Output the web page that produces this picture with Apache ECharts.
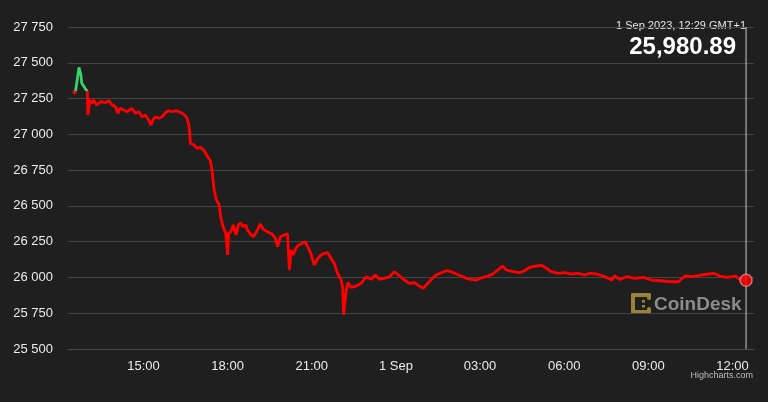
<!DOCTYPE html>
<html>
<head>
<meta charset="utf-8">
<script src="https://cdn.jsdelivr.net/npm/echarts@6/dist/echarts.min.js"></script>
<style>
html,body{margin:0;padding:0;background:#1f1f1f;}
#chart{width:768px;height:402px;}
</style>
</head>
<body>
<div id="chart"></div>
<script>
// Minutes elapsed since 31 Aug 2023 12:29 (GMT+1)
var minutes = [0,5,9,13,17,19,23,26,31,32,36,41,44,51,59,69,77,84,91,96,101,109,116,126,134,141,148,155,162,167,171,176,184,191,198,205,212,219,227,234,241,244,248,250,251,259,266,273,280,287,294,298,302,307,313,316,321,327,331,333,338,343,349,354,359,364,370,373,381,386,393,401,407,416,426,433,438,444,452,459,463,467,471,477,483,491,497,502,509,516,524,531,538,545,552,559,566,574,577,579,584,588,595,606,617,627,638,647,656,666,677,688,699,709,720,731,741,749,756,767,777,788,799,809,820,831,841,852,863,870,884,898,909,919,927,941,956,966,977,992,1002,1013,1024,1038,1052,1066,1081,1095,1106,1120,1134,1145,1152,1159,1170,1184,1202,1220,1238,1256,1278,1295,1310,1324,1343,1360,1371,1384,1399,1417,1427,1440];
// BTC price (USD)
var prices = [27298,27287,27298,27468,27415,27357,27345,27322,27298,27135,27240,27217,27240,27205,27228,27221,27235,27205,27193,27147,27182,27170,27158,27182,27147,27158,27123,27135,27100,27065,27100,27123,27112,27123,27151,27165,27158,27165,27158,27147,27128,27112,27065,27007,26937,26925,26902,26909,26890,26850,26815,26740,26611,26541,26506,26425,26355,26308,26157,26308,26320,26367,26297,26367,26379,26355,26367,26332,26297,26285,26320,26374,26337,26320,26304,26274,26215,26285,26297,26304,26052,26192,26157,26204,26227,26239,26250,26215,26169,26087,26134,26157,26169,26173,26134,26099,26029,25982,25924,25738,25889,25965,25930,25940,25959,26005,25987,26017,25987,25994,26005,26040,26010,25982,25959,25963,25940,25924,25947,25987,26017,26033,26047,26040,26024,26010,25994,25987,25982,25994,26005,26024,26052,26080,26052,26040,26033,26047,26071,26080,26085,26064,26040,26029,26033,26024,26029,26017,26029,26024,26010,25994,25982,26010,25985,26005,25994,26001,25982,25977,25970,25970,26010,26005,26017,26024,26029,26010,26001,26010,25987,25980.89];
var openPrice = 27300;
var startClockMin = 12 * 60 + 29; // 12:29 on 31 Aug
var tickMinutes = [900, 1080, 1260, 1440, 1620, 1800, 1980, 2160];
var tickLabels = ['15:00', '18:00', '21:00', '1 Sep', '03:00', '06:00', '09:00', '12:00'];
var yTicks = [25500, 25750, 26000, 26250, 26500, 26750, 27000, 27250, 27500, 27750];
var lastLabel = '1 Sep 2023, 12:29 GMT+1';

var data = minutes.map(function (m, i) { return [startClockMin + m, prices[i]]; });
var last = data[data.length - 1];
var FONT = '"Liberation Sans", Arial, Helvetica, sans-serif';

function fmtY(v) { return String(v).replace(/\B(?=(\d{3})+(?!\d))/g, ' '); }
var lastText = last[1].toLocaleString('en-US', {minimumFractionDigits: 2, maximumFractionDigits: 2});

var chart = echarts.init(document.getElementById('chart'), null, {renderer: 'canvas'});
var gold = '#9a8236';
chart.setOption({
  backgroundColor: '#1f1f1f',
  animation: false,
  grid: {left: 68, right: 14, top: 27, bottom: 53},
  xAxis: {
    type: 'value',
    min: 738.5,
    max: 2206,
    axisLine: {show: true, lineStyle: {color: '#4a4a4a', width: 1}},
    axisTick: {show: false},
    splitLine: {show: false},
    axisLabel: {
      customValues: tickMinutes,
      formatter: function (v) { var i = tickMinutes.indexOf(v); return i >= 0 ? tickLabels[i] : ''; },
      color: '#ececec', fontSize: 13, fontFamily: FONT, margin: 11
    }
  },
  yAxis: {
    type: 'value',
    min: yTicks[0],
    max: yTicks[yTicks.length - 1],
    interval: 250,
    axisLine: {show: false},
    axisTick: {show: false},
    splitLine: {lineStyle: {color: '#454545', width: 1}},
    axisLabel: {formatter: fmtY, color: '#ececec', fontSize: 13, fontFamily: FONT, margin: 15}
  },
  visualMap: {
    show: false,
    type: 'piecewise',
    dimension: 1,
    seriesIndex: 0,
    pieces: [
      {gt: openPrice, lte: 30000, color: '#33d46a'},
      {gte: 20000, lte: openPrice, color: '#ff0000'}
    ],
    outOfRange: {color: '#ff0000'}
  },
  series: [
    {
      type: 'line',
      data: data,
      showSymbol: false,
      lineStyle: {width: 2.8},
      z: 3
    },
    {
      type: 'line',
      data: [[last[0], yTicks[0]], [last[0], yTicks[yTicks.length - 1]]],
      showSymbol: false,
      silent: true,
      lineStyle: {color: '#c8c8c8', width: 1},
      z: 2
    },
    {
      type: 'scatter',
      data: [last],
      symbol: 'circle',
      symbolSize: 12,
      z: 5,
      itemStyle: {color: '#ff0000', borderColor: 'rgba(255,150,150,0.85)', borderWidth: 1.5}
    }
  ],
  graphic: [
    {type: 'text', right: 22, top: 20, style: {text: lastLabel, fill: '#e8e8e8', font: '11px ' + FONT, textAlign: 'right'}},
    {type: 'text', right: 32, top: 35, style: {text: lastText, fill: '#ffffff', font: 'bold 24px ' + FONT}},
    {type: 'text', right: 15, top: 371, style: {text: 'Highcharts.com', fill: '#bdbdbd', font: '9px ' + FONT}},
    {type: 'text', left: 654, top: 295, style: {text: 'CoinDesk', fill: '#8c8c8c', font: 'bold 19px ' + FONT}},
    {type: 'group', left: 631, top: 293, children: [
      {type: 'rect', shape: {x: 0, y: 0, width: 20, height: 4, r: 2}, style: {fill: gold}},
      {type: 'rect', shape: {x: 0, y: 0, width: 4, height: 21, r: 2}, style: {fill: gold}},
      {type: 'rect', shape: {x: 0, y: 17, width: 20, height: 4, r: 2}, style: {fill: gold}},
      {type: 'rect', shape: {x: 16, y: 0, width: 4, height: 7, r: 2}, style: {fill: gold}},
      {type: 'rect', shape: {x: 16, y: 14, width: 4, height: 7, r: 2}, style: {fill: gold}},
      {type: 'rect', shape: {x: 11, y: 7, width: 3, height: 2.5}, style: {fill: gold}},
      {type: 'rect', shape: {x: 11, y: 12, width: 3, height: 2.5}, style: {fill: gold}}
    ]}
  ]
});
</script>
</body>
</html>
